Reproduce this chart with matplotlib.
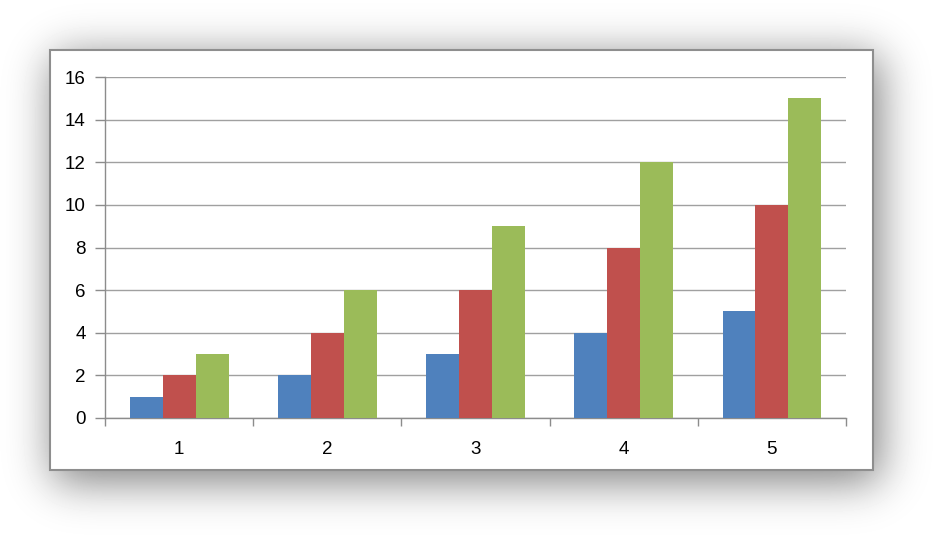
import math
import numpy as np
import matplotlib.pyplot as plt
from matplotlib.patches import Rectangle

# ---- data ----
categories = ["1", "2", "3", "4", "5"]
series_a = [1, 2, 3, 4, 5]
series_b = [2, 4, 6, 8, 10]
series_c = [3, 6, 9, 12, 15]
colors = ["#4F81BD", "#C0504D", "#9BBB59"]

W, H = 939, 537
fig = plt.figure(figsize=(W / 100, H / 100), dpi=100)
plt.rcParams['font.family'] = ['Liberation Sans', 'DejaVu Sans']

# ---- soft drop shadow behind the chart frame (blurred box) ----
fx0, fx1, fy0, fy1 = 50, 873, 50, 470
sig = 22.0
erf = np.vectorize(math.erf)

def soft_box(coords, a, b):
    return 0.5 * (erf((coords - a) / (sig * 1.414)) - erf((coords - b) / (sig * 1.414)))

px = soft_box(np.arange(W) + 0.5, fx0 + 3, fx1 + 7)
py = soft_box(np.arange(H) + 0.5, fy0 + 6, fy1 + 12)
shade = 0.5 * np.outer(py, px)
img = 1.0 - shade
bg = fig.add_axes([0, 0, 1, 1])
bg.imshow(img, cmap="gray", vmin=0, vmax=1, extent=(0, W, H, 0), aspect="auto")
bg.add_patch(Rectangle((fx0, fy0), fx1 - fx0, fy1 - fy0, facecolor="white",
                       edgecolor="#8E8E8E", linewidth=1.5))
bg.set_xlim(0, W)
bg.set_ylim(H, 0)
bg.axis("off")

# ---- chart ----
ax = fig.add_axes([105 / W, 1 - 418 / H, (846 - 105) / W, (418 - 77) / H])
ax.set_facecolor("none")
x = np.arange(len(categories))
bw = 1 / 4.5
for i, vals in enumerate([series_a, series_b, series_c]):
    ax.bar(x + (i - 1) * bw, vals, width=bw, color=colors[i], zorder=3)

ax.set_xlim(-0.5, len(categories) - 0.5)
ax.set_ylim(0, 16)
ax.set_yticks(range(0, 17, 2))
ax.yaxis.grid(True, color="#A0A0A0", linewidth=1.0, zorder=0)

ax.set_xticks(x)
ax.set_xticklabels(categories)
ax.set_xticks(np.arange(-0.5, len(categories), 1), minor=True)
ax.tick_params(axis="x", which="major", length=0, pad=16.5, labelsize=13.5)
ax.tick_params(axis="x", which="minor", length=6, width=1, color="#8C8C8C")
ax.tick_params(axis="y", length=7, width=1, color="#8C8C8C", pad=7, labelsize=13.5)

for side in ["top", "right"]:
    ax.spines[side].set_visible(False)
for side in ["left", "bottom"]:
    ax.spines[side].set_color("#8C8C8C")
    ax.spines[side].set_linewidth(1.0)

fig.savefig("out.png", dpi=100)
